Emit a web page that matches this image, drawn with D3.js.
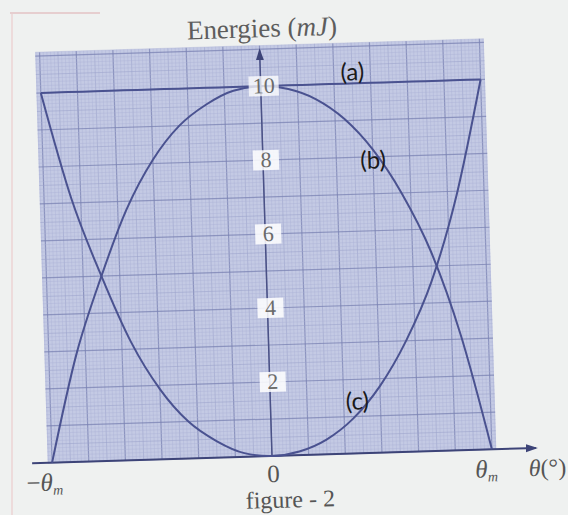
<!DOCTYPE html>
<html>
<head>
<meta charset="utf-8">
<script src="https://cdn.jsdelivr.net/npm/d3@7"></script>
<style>
  html, body { margin: 0; padding: 0; background: #eff1f0; }
  svg { display: block; }
</style>
</head>
<body>
<svg id="chart" width="568" height="515"></svg>
<script>
// angle as a fraction of theta_m
const thetaFrac = [-1, -0.875, -0.75, -0.625, -0.5, -0.375, -0.25, -0.125, 0,
                   0.125, 0.25, 0.375, 0.5, 0.625, 0.75, 0.875, 1];
// (a) total energy (mJ)
const curveA = [10, 10, 10, 10, 10, 10, 10, 10, 10, 10, 10, 10, 10, 10, 10, 10, 10];
// (b) kinetic energy (mJ)
const curveB = [0, 2.9, 5.0, 6.8, 8.1, 9.0, 9.55, 9.9, 10,
                9.9, 9.6, 9.05, 8.2, 7.0, 5.4, 3.1, 0];
// (c) potential energy (mJ)
const curveC = [10, 7.1, 5.0, 3.2, 1.9, 1.0, 0.45, 0.1, 0,
                0.1, 0.4, 0.95, 1.8, 3.0, 4.6, 6.9, 10];
const yTicks = [2, 4, 6, 8, 10];
const curveLabels = ["(a)", "(b)", "(c)"];

const svg = d3.select('#chart');

// faint page border of the photo
svg.append('line').attr('x1', 12).attr('y1', 14).attr('x2', 12).attr('y2', 515)
    .attr('stroke', '#ecd3d5').attr('stroke-width', 1.5);
svg.append('line').attr('x1', 10).attr('y1', 13).attr('x2', 100).attr('y2', 13)
    .attr('stroke', '#e3c2c5').attr('stroke-width', 1.5);

// the photo is slightly rotated, so everything sits in a tilted group
const g = svg.append('g').attr('transform', 'translate(272,456) rotate(-1.75)');

const x = d3.scaleLinear().domain([-1, 1]).range([-220, 220]);
const y = d3.scaleLinear().domain([0, 10]).range([0, -370]);

// graph paper
const paperX = [-1.02, 1.02];
const paperTop = 11.1;
g.append('rect')
    .attr('x', x(paperX[0]))
    .attr('y', y(paperTop))
    .attr('width', x(paperX[1]) - x(paperX[0]))
    .attr('height', y(0) - y(paperTop))
    .attr('fill', '#c4cae4');

const grid = g.append('g');
function gridStyle(sel, major, mid) {
    sel.attr('stroke', major ? '#7a82b3' : mid ? '#9ca3cc' : '#acb2d7')
       .attr('stroke-width', major ? 1.2 : 1)
       .attr('opacity', major ? 0.75 : mid ? 0.55 : 0.4);
}
d3.range(-61, 62).forEach(k => {
    grid.append('line')
        .attr('x1', x(k / 60)).attr('x2', x(k / 60))
        .attr('y1', y(0)).attr('y2', y(paperTop))
        .call(gridStyle, k % 10 === 0, k % 5 === 0);
});
d3.range(0, 112).forEach(j => {
    grid.append('line')
        .attr('x1', x(paperX[0])).attr('x2', x(paperX[1]))
        .attr('y1', y(j / 10)).attr('y2', y(j / 10))
        .call(gridStyle, j % 10 === 0, j % 5 === 0);
});

// arrow marker
svg.append('defs').append('marker')
    .attr('id', 'arrow')
    .attr('viewBox', '0 -5 12 10')
    .attr('refX', 10).attr('refY', 0)
    .attr('markerWidth', 12).attr('markerHeight', 10)
    .attr('markerUnits', 'userSpaceOnUse')
    .attr('orient', 'auto')
    .append('path')
    .attr('d', 'M0,-4L12,0L0,4Z')
    .attr('fill', '#3d4478');

// axes
g.append('line')
    .attr('x1', -240).attr('y1', y(0))
    .attr('x2', 264).attr('y2', y(0))
    .attr('stroke', '#3d4478').attr('stroke-width', 2)
    .attr('marker-end', 'url(#arrow)');
g.append('line')
    .attr('x1', x(0)).attr('y1', y(0))
    .attr('x2', x(0)).attr('y2', y(10.97))
    .attr('stroke', '#4a5186').attr('stroke-width', 1.5)
    .attr('marker-end', 'url(#arrow)');

// curves
const line = d3.line()
    .x((d, i) => x(thetaFrac[i]))
    .y(d => y(d))
    .curve(d3.curveMonotoneX);

[curveA, curveB, curveC].forEach(series => {
    g.append('path')
        .attr('d', line(series))
        .attr('fill', 'none')
        .attr('stroke', '#4a5290')
        .attr('stroke-width', 2);
});

// tick labels on the energy axis, in small white boxes
yTicks.forEach(t => {
    const w = t >= 10 ? 30 : 26;
    g.append('rect')
        .attr('x', x(0) + 3 - w / 2)
        .attr('y', y(t) - 10)
        .attr('width', w).attr('height', 20)
        .attr('fill', '#ffffff').attr('opacity', t >= 10 ? 0.75 : 0.85);
    g.append('text')
        .attr('x', x(0) + 3)
        .attr('y', y(t) + 7)
        .attr('text-anchor', 'middle')
        .attr('font-family', 'Liberation Serif, serif')
        .attr('font-size', 22)
        .attr('fill', '#6b6b6b')
        .text(t);
});

// curve labels
const labelPos = [[92, 10.3], [110, 7.9], [87, 1.4]];
curveLabels.forEach((lab, i) => {
    g.append('text')
        .attr('x', labelPos[i][0])
        .attr('y', y(labelPos[i][1]) + 8)
        .attr('text-anchor', 'middle')
        .attr('font-family', 'Lato, sans-serif')
        .attr('font-size', 24)
        .attr('fill', '#1a1a1a')
        .text(lab);
});

// axis titles
const serif = 'Liberation Serif, serif';
const yTitle = g.append('text')
    .attr('x', 3).attr('y', -419)
    .attr('text-anchor', 'middle')
    .attr('font-family', serif)
    .attr('font-size', 27)
    .attr('fill', '#5d5d5d');
yTitle.append('tspan').text('Energies (');
yTitle.append('tspan').attr('font-style', 'italic').text('mJ');
yTitle.append('tspan').text(')');

function thetaLabel(px, prefix) {
    const t = g.append('text')
        .attr('x', px).attr('y', 28)
        .attr('text-anchor', 'middle')
        .attr('font-family', serif)
        .attr('font-size', 25)
        .attr('fill', '#555');
    if (prefix) t.append('tspan').text(prefix);
    t.append('tspan').attr('font-style', 'italic').text('θ');
    t.append('tspan').attr('font-style', 'italic').attr('font-size', 14).attr('dy', 4).text('m');
}
thetaLabel(x(-1) - 8, '−');
thetaLabel(x(1) - 6, '');
g.append('text')
    .attr('x', x(0) + 1).attr('y', 26)
    .attr('text-anchor', 'middle')
    .attr('font-family', serif).attr('font-size', 25)
    .attr('fill', '#555').text('0');
const th = g.append('text')
    .attr('x', 275).attr('y', 28)
    .attr('text-anchor', 'middle')
    .attr('font-family', serif).attr('font-size', 24)
    .attr('fill', '#555');
th.append('tspan').attr('font-style', 'italic').text('θ');
th.append('tspan').text('(°)');

g.append('text')
    .attr('x', 17).attr('y', 52)
    .attr('text-anchor', 'middle')
    .attr('font-family', serif).attr('font-size', 24)
    .attr('fill', '#555').text('figure - 2');
</script>
</body>
</html>
